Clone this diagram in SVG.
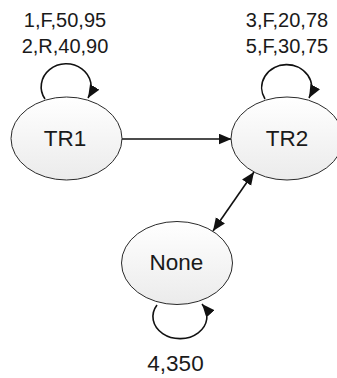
<svg xmlns="http://www.w3.org/2000/svg" width="337" height="378" viewBox="0 0 337 378">
<style>
.node{fill:url(#g);stroke:#2a2a2a;stroke-width:1}
.lbl{font-family:"Liberation Sans",Arial,sans-serif;fill:#1a1a1a;text-anchor:middle}
.small{font-size:20px}
.big{font-size:22.5px}
.edge{fill:none;stroke:#111;stroke-width:1.6}
</style>
<defs>
<linearGradient id="g" x1="0" y1="0" x2="0" y2="1">
<stop offset="0" stop-color="#ffffff"/>
<stop offset="1" stop-color="#ebebeb"/>
</linearGradient>
<marker id="ah" markerUnits="userSpaceOnUse" markerWidth="14" markerHeight="12" refX="13" refY="5.5" orient="auto-start-reverse" viewBox="0 0 14 12">
<path d="M0,0 L13,5.5 L0,11 z" fill="#111"/>
</marker>
</defs>
<g id="connectors">
<path class="edge" d="M122,139 L231.5,139" marker-end="url(#ah)"/>
<path class="edge" d="M213,231 L254,172" marker-start="url(#ah)" marker-end="url(#ah)"/>
<path class="edge" d="M45,99 A25,23 0 1 1 88,98" marker-end="url(#ah)"/>
<path class="edge" d="M265,99 A25,23 0 1 1 309,98" marker-end="url(#ah)"/>
<path class="edge" d="M157,305 A27,22 0 1 0 202,304" marker-end="url(#ah)"/>
</g>
<g id="TR1">
<ellipse class="node" cx="66.5" cy="138.5" rx="55.5" ry="41.5"/>
<text class="lbl big" x="65" y="146">TR1</text>
<text class="lbl small" x="65" y="26.5">1,F,50,95</text>
<text class="lbl small" x="65" y="52.5">2,R,40,90</text>
</g>
<g id="TR2">
<ellipse class="node" cx="287" cy="138.5" rx="56" ry="41.5"/>
<text class="lbl big" x="287" y="145.5">TR2</text>
<text class="lbl small" x="287" y="26.5">3,F,20,78</text>
<text class="lbl small" x="287" y="52.5">5,F,30,75</text>
</g>
<g id="None">
<ellipse class="node" cx="177" cy="263" rx="55.5" ry="41.5"/>
<text class="lbl big" x="176.5" y="270">None</text>
<text class="lbl big" x="175.5" y="371">4,350</text>
</g>
</svg>
